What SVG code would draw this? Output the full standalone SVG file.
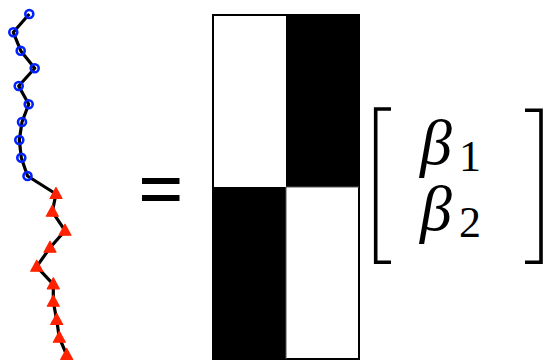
<svg xmlns="http://www.w3.org/2000/svg" width="546" height="361" viewBox="0 0 546 361">
<defs>
<style>
.chain{fill:none;stroke:#000;stroke-width:3.2;stroke-linejoin:round}
.c{fill:none;stroke:#0022ff;stroke-width:2.6}
.t{fill:#ff2200;stroke:#ff2200;stroke-width:1.2;stroke-linejoin:round}
.beta{font-family:"Liberation Serif","DejaVu Serif",serif;font-style:italic;font-size:64px;fill:#000}
.sub{font-family:"Liberation Serif","DejaVu Serif",serif;font-size:44px;fill:#000}
</style>
<path id="tri" d="M0,-6.5 L6,4.5 L-6,4.5 Z"/>
</defs>
<rect width="546" height="361" fill="#fff"/>
<g id="connectors">
<polyline class="chain" points="29.3,14 13.3,32.3 20.7,50.7 34.7,68.3 18.7,86 28.7,104.3 22,122 19.3,140 21.3,157.7 27.5,176 56,194 52.3,211.7 65,230.7 50,247.7 36.7,266.7 53.3,284.3 53.3,301.7 56.7,320 59.3,337.7 66.7,355"/>
</g>
<g id="blue-markers">
<circle class="c" cx="29.3" cy="14" r="4"/>
<circle class="c" cx="13.3" cy="32.3" r="4"/>
<circle class="c" cx="20.7" cy="50.7" r="4"/>
<circle class="c" cx="34.7" cy="68.3" r="4"/>
<circle class="c" cx="18.7" cy="86" r="4"/>
<circle class="c" cx="28.7" cy="104.3" r="4"/>
<circle class="c" cx="22" cy="122" r="4"/>
<circle class="c" cx="19.3" cy="140" r="4"/>
<circle class="c" cx="21.3" cy="157.7" r="4"/>
<circle class="c" cx="27.5" cy="176" r="4"/>
</g>
<g id="red-markers">
<use href="#tri" class="t" x="56" y="194"/>
<use href="#tri" class="t" x="52.3" y="211.7"/>
<use href="#tri" class="t" x="65" y="230.7"/>
<use href="#tri" class="t" x="50" y="247.7"/>
<use href="#tri" class="t" x="36.7" y="266.7"/>
<use href="#tri" class="t" x="53.3" y="284.3"/>
<use href="#tri" class="t" x="53.3" y="301.7"/>
<use href="#tri" class="t" x="56.7" y="320"/>
<use href="#tri" class="t" x="59.3" y="337.7"/>
<use href="#tri" class="t" x="66.7" y="355"/>
</g>
<g id="equals">
<rect x="142" y="178" width="37.5" height="6" fill="#000"/>
<rect x="142" y="195" width="37.5" height="6" fill="#000"/>
</g>
<g id="matrix">
<rect x="213" y="15" width="146" height="344" fill="#fff" stroke="#000" stroke-width="2"/>
<rect x="286" y="15" width="73" height="172" fill="#000"/>
<rect x="213" y="187" width="73" height="172" fill="#000"/>
<line x1="286" y1="187" x2="359" y2="187" stroke="#555" stroke-width="1"/>
<line x1="286" y1="187" x2="286" y2="359" stroke="#555" stroke-width="1"/>
</g>
<g id="vector">
<path d="M391,109 H375.7 V262.3 H391" fill="none" stroke="#000" stroke-width="3.6"/>
<path d="M525,110.3 H541 V262.3 H525" fill="none" stroke="#000" stroke-width="3.6"/>
<text class="beta" x="420" y="164">β</text>
<text class="sub" x="459" y="171">1</text>
<text class="beta" x="420" y="230">β</text>
<text class="sub" x="459" y="237">2</text>
</g>
</svg>
